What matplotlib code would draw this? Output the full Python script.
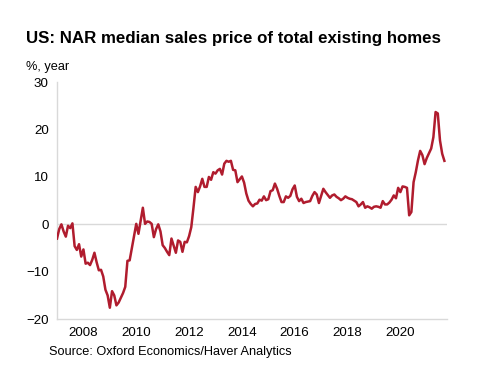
import numpy as np
import matplotlib
matplotlib.use("Agg")
import matplotlib.pyplot as plt

plt.rcParams['font.family'] = ['Liberation Sans', 'DejaVu Sans']

# monthly y/y % change, Jan 2007 .. Sep 2021
start_year = 2007
values = [
    # 2007
    -3.0, -1.0, 0.0, -1.5, -2.6, -0.3, -0.8, 0.2, -4.6, -5.4, -4.2, -6.8,
    # 2008
    -5.3, -8.3, -8.1, -8.6, -7.5, -6.0, -8.0, -9.7, -9.6, -11.0, -13.8, -15.0,
    # 2009
    -17.6, -14.1, -15.0, -17.1, -16.5, -15.5, -14.5, -13.2, -7.7, -7.6, -5.0, -2.5,
    # 2010
    0.1, -2.0, 0.8, 3.5, 0.1, 0.6, 0.5, 0.1, -2.7, -1.0, 0.0, -1.5,
    # 2011
    -4.4, -5.0, -5.8, -6.5, -3.0, -4.5, -6.0, -3.4, -3.7, -5.8, -3.7, -3.8,
    # 2012
    -2.5, -0.6, 3.5, 7.9, 6.8, 8.0, 9.6, 7.9, 7.9, 10.0, 9.4, 11.0,
    # 2013
    10.7, 11.4, 11.7, 10.5, 12.8, 13.4, 13.2, 13.4, 11.5, 11.4, 8.9, 9.5,
    # 2014
    10.1, 8.8, 6.5, 5.0, 4.3, 3.8, 4.3, 4.4, 5.2, 5.0, 5.9, 5.1,
    # 2015
    5.3, 7.0, 7.2, 8.6, 7.5, 6.0, 4.7, 4.7, 5.9, 5.6, 6.0, 7.4,
    # 2016
    8.2, 5.8, 4.9, 5.4, 4.5, 4.7, 4.8, 4.9, 6.0, 6.8, 6.3, 4.5,
    # 2017
    6.0, 7.5, 6.8, 6.2, 5.6, 6.1, 6.3, 5.8, 5.5, 5.1, 5.4, 5.9,
    # 2018
    5.6, 5.4, 5.3, 5.0, 4.7, 3.8, 4.2, 4.7, 3.5, 3.8, 3.6, 3.3,
    # 2019
    3.7, 3.8, 3.7, 3.5, 4.9, 4.2, 4.2, 4.6, 5.2, 6.1, 5.5, 7.7,
    # 2020
    6.8, 8.0, 7.9, 7.7, 1.9, 2.6, 8.9, 11.0, 13.5, 15.5, 14.6, 12.7,
    # 2021
    14.0, 15.0, 16.0, 18.4, 23.7, 23.4, 17.7, 14.9, 13.4,
]
year_ticks = [2008, 2010, 2012, 2014, 2016, 2018, 2020]
y_ticks = [-20, -10, 0, 10, 20, 30]

t = start_year + np.arange(len(values)) / 12.0

fig = plt.figure(figsize=(4.84, 3.84), dpi=100)
ax = fig.add_axes([0.1178, 0.169, 0.806, 0.617])

ax.axhline(0, color='#d9d9d9', lw=1.0, zorder=1)
ax.plot(t, values, color='#b01c2e', lw=1.8, zorder=3)

ax.set_xlim(2007.0, 2021.77)
ax.set_ylim(-20, 30)
ax.set_xticks(year_ticks)
ax.set_xticklabels([str(y) for y in year_ticks])
ax.set_yticks(y_ticks)

for s in ['top', 'right']:
    ax.spines[s].set_visible(False)
for s in ['left', 'bottom']:
    ax.spines[s].set_color('#d9d9d9')
    ax.spines[s].set_linewidth(1.0)
ax.tick_params(axis='both', length=0, labelsize=9.6, colors='black')
ax.tick_params(axis='y', pad=6)
ax.tick_params(axis='x', pad=6)

fig.text(26 / 484, 1 - 38 / 384, 'US: NAR median sales price of total existing homes',
         fontsize=12.2, fontweight='bold', va='center', ha='left')
fig.text(26 / 484, 1 - 67 / 384, '%, year', fontsize=9.2, va='center', ha='left')
fig.text(49 / 484, 1 - 352 / 384, 'Source: Oxford Economics/Haver Analytics',
         fontsize=9.2, va='center', ha='left')

fig.savefig('out.png', dpi=100)
